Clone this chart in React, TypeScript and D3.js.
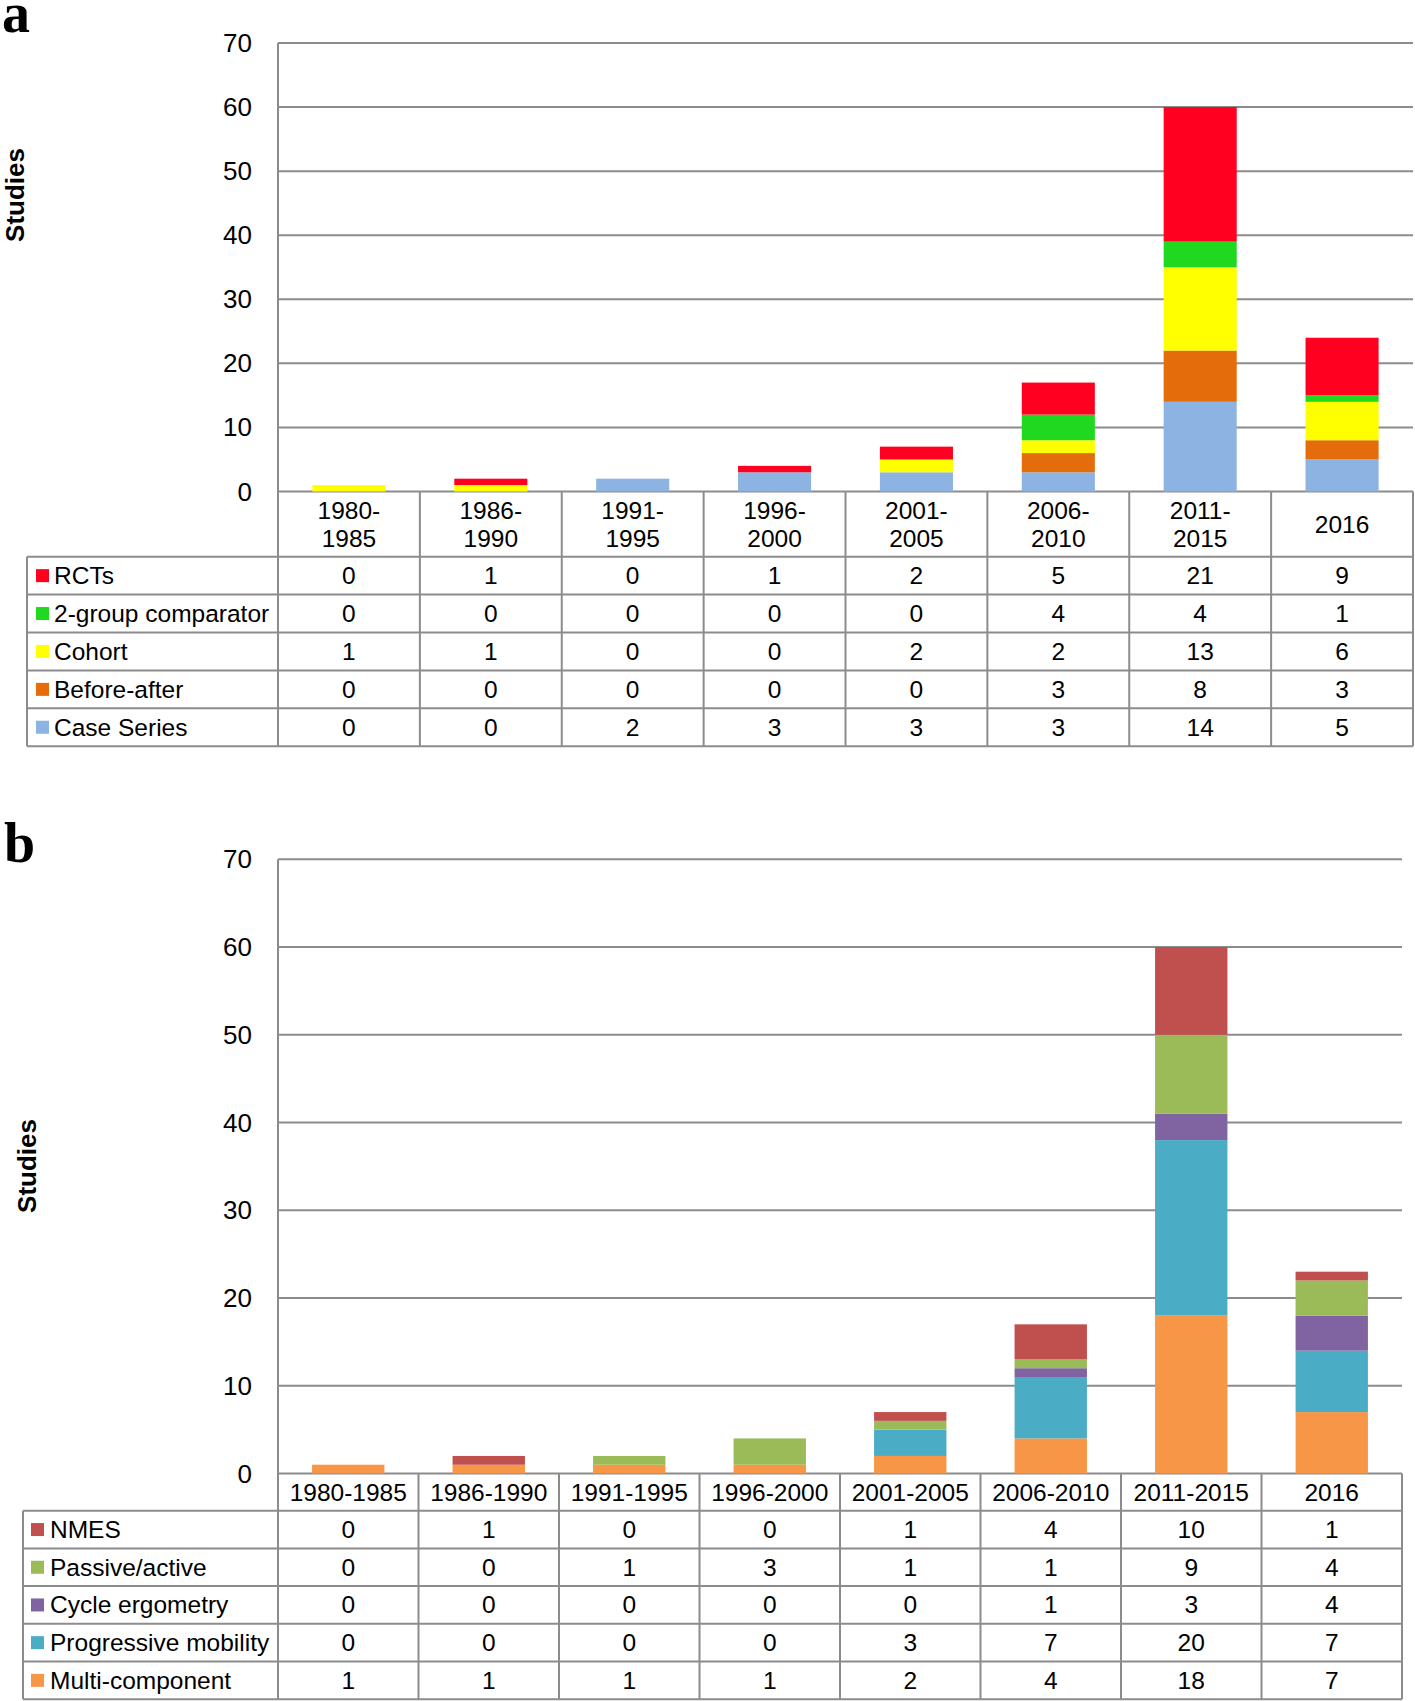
import React from "react";
import * as d3 from "d3";

// periods shared by both panels
const periods = [
  "1980-1985",
  "1986-1990",
  "1991-1995",
  "1996-2000",
  "2001-2005",
  "2006-2010",
  "2011-2015",
  "2016",
];

// panel a - study design (table order, top row = top of stack)
const designNames = ["RCTs", "2-group comparator", "Cohort", "Before-after", "Case Series"];
const rcts = [0, 1, 0, 1, 2, 5, 21, 9];
const twoGroup = [0, 0, 0, 0, 0, 4, 4, 1];
const cohort = [1, 1, 0, 0, 2, 2, 13, 6];
const beforeAfter = [0, 0, 0, 0, 0, 3, 8, 3];
const caseSeries = [0, 0, 2, 3, 3, 3, 14, 5];
const designColors = ["#ff0020", "#1fd81f", "#ffff00", "#e46c0a", "#8db3e2"];

// panel b - intervention type
const interventionNames = [
  "NMES",
  "Passive/active",
  "Cycle ergometry",
  "Progressive mobility",
  "Multi-component",
];
const nmes = [0, 1, 0, 0, 1, 4, 10, 1];
const passiveActive = [0, 0, 1, 3, 1, 1, 9, 4];
const cycleErgometry = [0, 0, 0, 0, 0, 1, 3, 4];
const progressiveMobility = [0, 0, 0, 0, 3, 7, 20, 7];
const multiComponent = [1, 1, 1, 1, 2, 4, 18, 7];
const interventionColors = ["#c0504d", "#9bbb59", "#8064a2", "#4bacc6", "#f79646"];

const yTicks = [0, 10, 20, 30, 40, 50, 60, 70];

const FONT = "'Liberation Sans', Arial, Helvetica, sans-serif";
const GRID = "#8c8c8c";
const TXT = 24.5;

function Panel(props) {
  const {
    letter, letterX, letterY, names, series, colors,
    left, right, yTop, yZero, headerBottom, rowH, tableLeft,
    swatchX, textX, studiesX, studiesY, twoLineHeader,
  } = props;

  const x = d3.scaleBand().domain(periods).range([left, right]).padding(0);
  const y = d3.scaleLinear().domain([0, 70]).range([yZero, yTop]);
  const barW = x.bandwidth() * 0.515;

  // build rows per period, then stack bottom (last name) to top (first name)
  const rows = periods.map((p, i) => {
    const r = { period: p };
    names.forEach((n, k) => (r[n] = series[k][i]));
    return r;
  });
  const keys = names.slice().reverse();
  const stacked = d3.stack().keys(keys)(rows);
  const colorOf = (n) => colors[names.indexOf(n)];

  const tableBottom = headerBottom + rowH * names.length;
  const headerMid = (yZero + headerBottom) / 2;

  return (
    <g>
      <text x={letterX} y={letterY} fontFamily="'Liberation Serif', 'Times New Roman', serif"
        fontWeight="bold" fontSize={56}>{letter}</text>
      <text transform={`translate(${studiesX},${studiesY}) rotate(-90)`} textAnchor="middle"
        dominantBaseline="central" fontFamily={FONT} fontWeight="bold" fontSize={26}>Studies</text>

      {/* gridlines */}
      {yTicks.map((t) => (
        <g key={t}>
          <line x1={left} x2={right} y1={y(t)} y2={y(t)} stroke={GRID} strokeWidth={2} />
          <text x={252} y={y(t)} textAnchor="end" dominantBaseline="central"
            fontFamily={FONT} fontSize={26}>{t}</text>
        </g>
      ))}
      <line x1={left} x2={left} y1={yTop} y2={tableBottom} stroke={GRID} strokeWidth={2} />

      {/* stacked bars */}
      {stacked.map((layer) => (
        <g key={layer.key} fill={colorOf(layer.key)}>
          {layer.map((d, i) =>
            d[1] - d[0] > 0 ? (
              <rect key={i} x={x(periods[i]) + (x.bandwidth() - barW) / 2} y={y(d[1])}
                width={barW} height={y(d[0]) - y(d[1])} />
            ) : null
          )}
        </g>
      ))}

      {/* table grid */}
      <line x1={right} x2={right} y1={yZero} y2={tableBottom} stroke={GRID} strokeWidth={2} />
      {periods.slice(1).map((p) => (
        <line key={p} x1={x(p)} x2={x(p)} y1={yZero} y2={tableBottom} stroke={GRID} strokeWidth={2} />
      ))}
      <line x1={tableLeft} x2={tableLeft} y1={headerBottom} y2={tableBottom} stroke={GRID} strokeWidth={2} />
      {d3.range(names.length + 1).map((k) => (
        <line key={k} x1={tableLeft} x2={right} y1={headerBottom + k * rowH}
          y2={headerBottom + k * rowH} stroke={GRID} strokeWidth={2} />
      ))}

      {/* header labels */}
      {periods.map((p) => {
        const cx = x(p) + x.bandwidth() / 2;
        if (twoLineHeader && p.includes("-")) {
          const [a, b] = p.split("-");
          return (
            <text key={p} x={cx} textAnchor="middle" fontFamily={FONT} fontSize={TXT}>
              <tspan x={cx} y={headerMid - 14} dominantBaseline="central">{a + "-"}</tspan>
              <tspan x={cx} y={headerMid + 14} dominantBaseline="central">{b}</tspan>
            </text>
          );
        }
        return (
          <text key={p} x={cx} y={headerMid} textAnchor="middle" dominantBaseline="central"
            fontFamily={FONT} fontSize={TXT}>{p}</text>
        );
      })}

      {/* legend column + values */}
      {names.map((n, k) => {
        const cy = headerBottom + k * rowH + rowH / 2;
        return (
          <g key={n}>
            <rect x={swatchX} y={cy - 6.5} width={13} height={13} fill={colors[k]} />
            <text x={textX} y={cy} dominantBaseline="central" fontFamily={FONT} fontSize={TXT}>{n}</text>
            {series[k].map((v, i) => (
              <text key={i} x={x(periods[i]) + x.bandwidth() / 2} y={cy} textAnchor="middle"
                dominantBaseline="central" fontFamily={FONT} fontSize={TXT}>{v}</text>
            ))}
          </g>
        );
      })}
    </g>
  );
}

export default function App() {
  return (
    <svg width={1415} height={1701} style={{ position: "absolute", left: 0, top: 0, background: "#fff" }}>
      <rect width={1415} height={1701} fill="#fff" />
      <Panel
        letter="a" letterX={2} letterY={32}
        names={designNames}
        series={[rcts, twoGroup, cohort, beforeAfter, caseSeries]}
        colors={designColors}
        left={278} right={1413} yTop={43} yZero={491.5} headerBottom={556.7} rowH={37.9}
        tableLeft={27} swatchX={36} textX={54}
        studiesX={15} studiesY={195} twoLineHeader={true}
      />
      <Panel
        letter="b" letterX={4} letterY={862}
        names={interventionNames}
        series={[nmes, passiveActive, cycleErgometry, progressiveMobility, multiComponent]}
        colors={interventionColors}
        left={278} right={1402} yTop={859.3} yZero={1473.5} headerBottom={1510.7} rowH={37.7}
        tableLeft={23} swatchX={31} textX={50}
        studiesX={27} studiesY={1166} twoLineHeader={false}
      />
    </svg>
  );
}
